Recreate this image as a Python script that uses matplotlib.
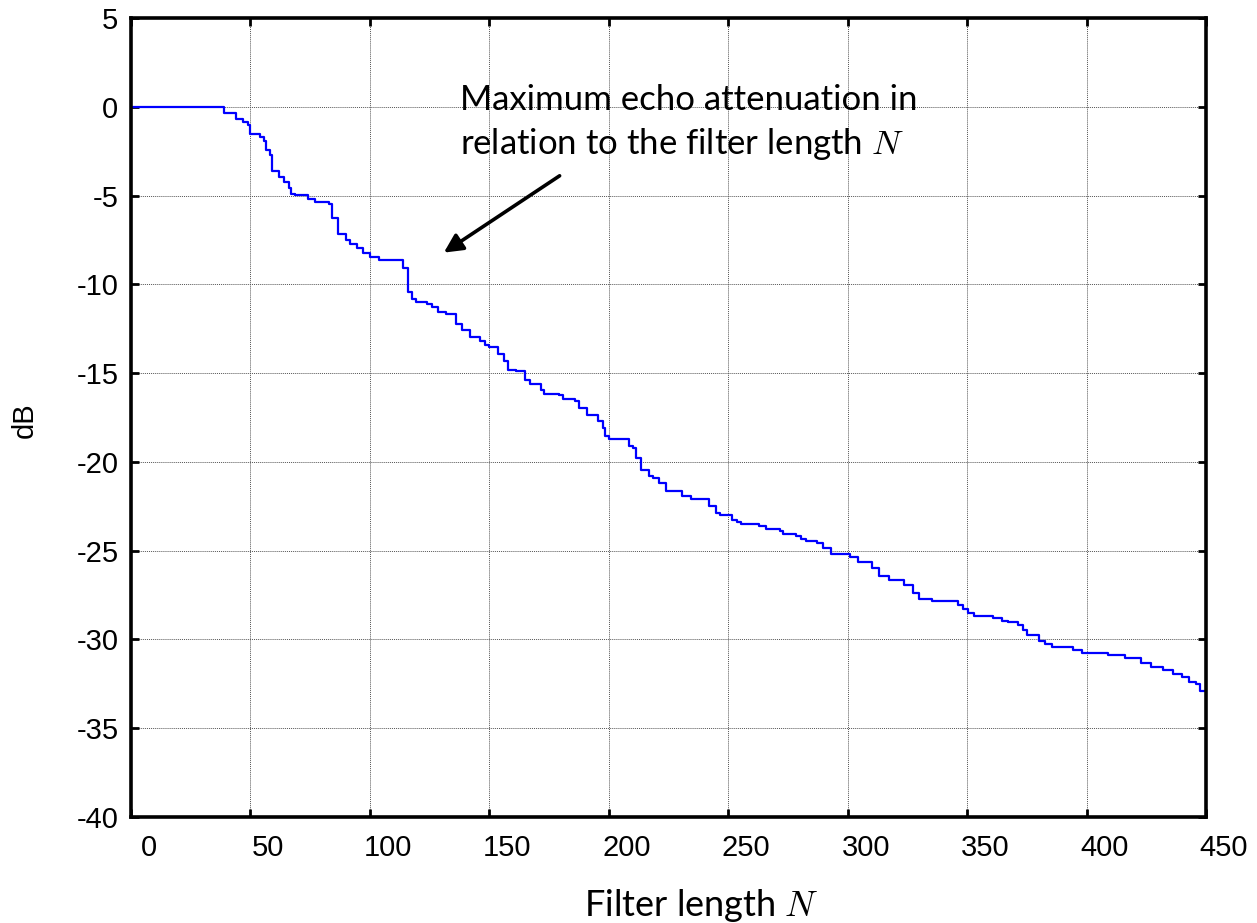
import matplotlib
matplotlib.use('Agg')
import matplotlib.pyplot as plt
import matplotlib.transforms as mtransforms

# staircase break points (level starts at N)
filter_len = [0, 39, 44, 47, 49, 50, 54, 55.5, 56.5, 58, 59, 62, 64, 66, 67, 68.5,
              74, 77, 83, 84, 86.5, 90, 91.5, 94.5, 97, 100, 104, 114, 116, 117.5,
              119.5, 124, 126, 128.5, 132, 136, 138.5, 142, 146, 148, 150, 153.5,
              156, 158, 161, 165, 167, 171.5, 173, 179, 181, 186, 187.5, 191, 195.5,
              197.5, 198.5, 200, 208.5, 210, 211.5, 213.5, 217, 218.5, 221, 224,
              230.5, 234.5, 242, 245, 246.5, 251.5, 253.5, 255.5, 263, 266, 271.5,
              273, 278.5, 280.5, 282.5, 287, 289.5, 293, 301, 304.5, 310, 313, 317.5,
              323.5, 327.5, 330, 335.5, 346, 348.5, 350.5, 353, 361, 364.5, 367,
              371.5, 373.5, 375, 380, 382.5, 385.5, 394.5, 398, 409, 416, 423, 427,
              432, 436, 440, 443, 446, 447.5, 450]
atten_db = [0, -0.35, -0.67, -0.86, -1.01, -1.52, -1.7, -1.9, -2.45, -2.73, -3.63,
            -3.95, -4.23, -4.57, -4.89, -4.98, -5.17, -5.36, -5.5, -6.25, -7.19,
            -7.5, -7.7, -7.98, -8.26, -8.45, -8.62, -9.06, -10.45, -10.8, -10.97,
            -11.1, -11.25, -11.53, -11.69, -12.25, -12.56, -12.99, -13.2, -13.44,
            -13.55, -13.93, -14.34, -14.81, -14.9, -15.37, -15.62, -15.94, -16.16,
            -16.25, -16.44, -16.59, -16.97, -17.34, -17.72, -18.09, -18.52, -18.73,
            -19.1, -19.2, -19.77, -20.43, -20.8, -20.9, -21.17, -21.64, -21.93,
            -22.07, -22.5, -22.87, -23.0, -23.25, -23.37, -23.5, -23.63, -23.76,
            -23.91, -24.04, -24.19, -24.32, -24.44, -24.56, -24.84, -25.21, -25.35,
            -25.62, -25.98, -26.45, -26.67, -26.92, -27.38, -27.72, -27.86, -28.05,
            -28.29, -28.52, -28.65, -28.8, -28.95, -29.04, -29.19, -29.46, -29.73,
            -30.11, -30.25, -30.4, -30.62, -30.77, -30.9, -31.05, -31.3, -31.56,
            -31.71, -31.94, -32.12, -32.37, -32.5, -32.88, -32.88]

x_ticks = list(range(0, 451, 50))
y_ticks = list(range(-40, 6, 5))

plt.rcParams['font.family'] = ['Liberation Sans', 'DejaVu Sans']
plt.rcParams['axes.unicode_minus'] = False
plt.rcParams['mathtext.fontset'] = 'cm'

fig = plt.figure(figsize=(12.57, 9.23), dpi=100)
ax = fig.add_axes([0.1042, 0.1148, 0.8552, 0.8657])

ax.plot(filter_len, atten_db, drawstyle='steps-post', color='#0000ff', lw=1.6)

ax.set_xlim(0, 450)
ax.set_ylim(-40, 5)
ax.set_xticks(x_ticks)
ax.set_yticks(y_ticks)
ax.grid(True, color='#555555', linestyle=(0, (1, 1)), lw=0.7)

for sp in ax.spines.values():
    sp.set_linewidth(2.6)
ax.tick_params(direction='in', length=6, width=2, top=True, right=True,
               labelsize=21)
ax.tick_params(axis='x', pad=12)
ax.tick_params(axis='y', pad=9)

# x tick labels sit a bit right of their ticks in the original
shift = mtransforms.ScaledTranslation(0.18, 0, fig.dpi_scale_trans)
for lab in ax.get_xticklabels():
    lab.set_transform(lab.get_transform() + shift)

ax.text(137.7, -0.9, 'Maximum echo attenuation in\nrelation to the filter length $N$',
        fontsize=25, family=['Lato', 'DejaVu Sans'], va='center', ha='left',
        linespacing=1.35)
ax.annotate('', xy=(130, -8.3), xytext=(180.4, -3.8),
            arrowprops=dict(arrowstyle='-|>', mutation_scale=28, lw=2.6, color='k'))

fig.text(701 / 1257, 18 / 923, 'Filter length $N$', fontsize=26,
         family=['Lato', 'DejaVu Sans'], ha='center', va='center')
fig.text(25 / 1257, 1 - 420 / 923, 'dB', fontsize=21, rotation=90,
         ha='center', va='center')

fig.savefig('out.png', dpi=100)
